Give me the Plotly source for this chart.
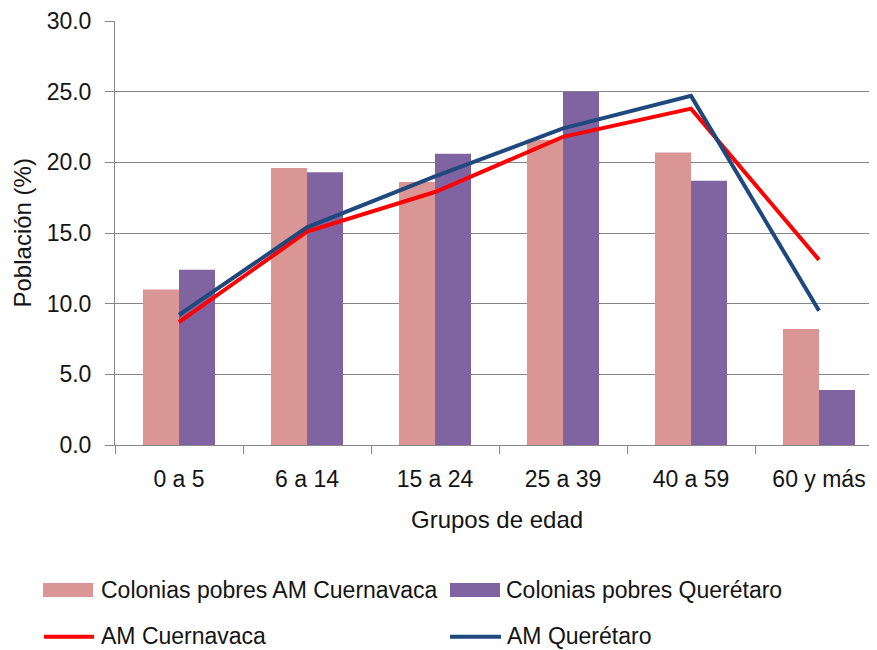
import plotly.graph_objects as go

categorias = ["0 a 5", "6 a 14", "15 a 24", "25 a 39", "40 a 59", "60 y más"]
pobres_cuernavaca = [11.0, 19.6, 18.6, 21.6, 20.7, 8.2]
pobres_queretaro = [12.4, 19.3, 20.6, 25.0, 18.7, 3.9]
am_cuernavaca = [8.7, 15.1, 17.9, 21.8, 23.8, 13.1]
am_queretaro = [9.2, 15.4, 19.0, 22.4, 24.7, 9.5]
y_ticks = [0, 5, 10, 15, 20, 25, 30]
y_tick_labels = ["0.0", "5.0", "10.0", "15.0", "20.0", "25.0", "30.0"]

names = ["Colonias pobres AM Cuernavaca", "Colonias pobres Querétaro",
         "AM Cuernavaca", "AM Querétaro"]
PINK = "#D99694"
PURPLE = "#8064A2"
RED = "#FF0000"
BLUE = "#1F497D"
GRID = "#868686"
TXT = "#141414"
FONT = "Liberation Sans"

# page body has an 8px margin; figure is sized to end at the window edge
OFF = 8
W, H = 877 - OFF, 650 - OFF
L, T = 115 - OFF, 18 - OFF
B = H - (445 - OFF)
R = 0
PW, PH = W - L - R, H - T - B


def px(x):
    return (x - OFF - L) / PW


def py(y):
    return (H - B - (y - OFF)) / PH


fig = go.Figure()
fig.add_trace(go.Bar(x=categorias, y=pobres_cuernavaca, name=names[0],
                     marker=dict(color=PINK, line=dict(width=0))))
fig.add_trace(go.Bar(x=categorias, y=pobres_queretaro, name=names[1],
                     marker=dict(color=PURPLE, line=dict(width=0))))
fig.add_trace(go.Scatter(x=categorias, y=am_cuernavaca, name=names[2], mode="lines",
                         line=dict(color=RED, width=4)))
fig.add_trace(go.Scatter(x=categorias, y=am_queretaro, name=names[3], mode="lines",
                         line=dict(color=BLUE, width=4)))

# category width 128 px -> range end trimmed by the window edge
x_end = -0.5 + PW / 128.0

shapes = []
annotations = []
# legend swatches
shapes.append(dict(type="rect", xref="paper", yref="paper", x0=px(43), x1=px(93),
                   y0=py(598), y1=py(584), fillcolor=PINK, line=dict(width=0)))
shapes.append(dict(type="rect", xref="paper", yref="paper", x0=px(450), x1=px(500),
                   y0=py(598), y1=py(584), fillcolor=PURPLE, line=dict(width=0)))
shapes.append(dict(type="line", xref="paper", yref="paper", x0=px(44), x1=px(94),
                   y0=py(638), y1=py(638), line=dict(color=RED, width=4)))
shapes.append(dict(type="line", xref="paper", yref="paper", x0=px(450), x1=px(501),
                   y0=py(638), y1=py(638), line=dict(color=BLUE, width=4)))
for name, xx, yy in [(names[0], 99, 591), (names[1], 504, 591),
                     (names[2], 99, 637), (names[3], 505, 637)]:
    annotations.append(dict(text=name, xref="paper", yref="paper", x=px(xx), y=py(yy),
                            xanchor="left", yanchor="middle", showarrow=False,
                            font=dict(family=FONT, size=23, color=TXT)))
# axis titles
annotations.append(dict(text="Grupos de edad", xref="paper", yref="paper",
                        x=px(497), y=py(520), xanchor="center", yanchor="middle",
                        showarrow=False, font=dict(family=FONT, size=24, color=TXT)))
annotations.append(dict(text="Población (%)", xref="paper", yref="paper",
                        x=px(22), y=py(232), xanchor="center", yanchor="middle",
                        textangle=-90, showarrow=False,
                        font=dict(family=FONT, size=24, color=TXT)))

fig.update_layout(
    width=W, height=H,
    margin=dict(l=L, r=R, t=T, b=B, pad=0),
    paper_bgcolor="white", plot_bgcolor="white",
    barmode="group", bargap=0.4375, bargroupgap=0,
    showlegend=False,
    font=dict(family=FONT, size=23, color=TXT),
    shapes=shapes, annotations=annotations,
)
fig.update_xaxes(
    type="category", range=[-0.5, x_end], showgrid=False, zeroline=False,
    showline=True, linecolor=GRID, linewidth=1,
    ticks="outside", tickson="boundaries", ticklen=8, tickcolor=GRID,
    ticklabelstandoff=13, tickfont=dict(family=FONT, size=23, color=TXT),
    ticklabeloverflow="allow", fixedrange=True,
)
fig.update_yaxes(
    range=[0, 30], tickvals=y_ticks, ticktext=y_tick_labels,
    showgrid=True, gridcolor=GRID, gridwidth=1, zeroline=False,
    showline=True, linecolor=GRID, linewidth=1,
    ticks="outside", ticklen=9, tickcolor=GRID,
    ticklabelstandoff=9, tickfont=dict(family=FONT, size=23, color=TXT),
    ticklabeloverflow="allow", fixedrange=True,
)

fig.write_html("out.html")
